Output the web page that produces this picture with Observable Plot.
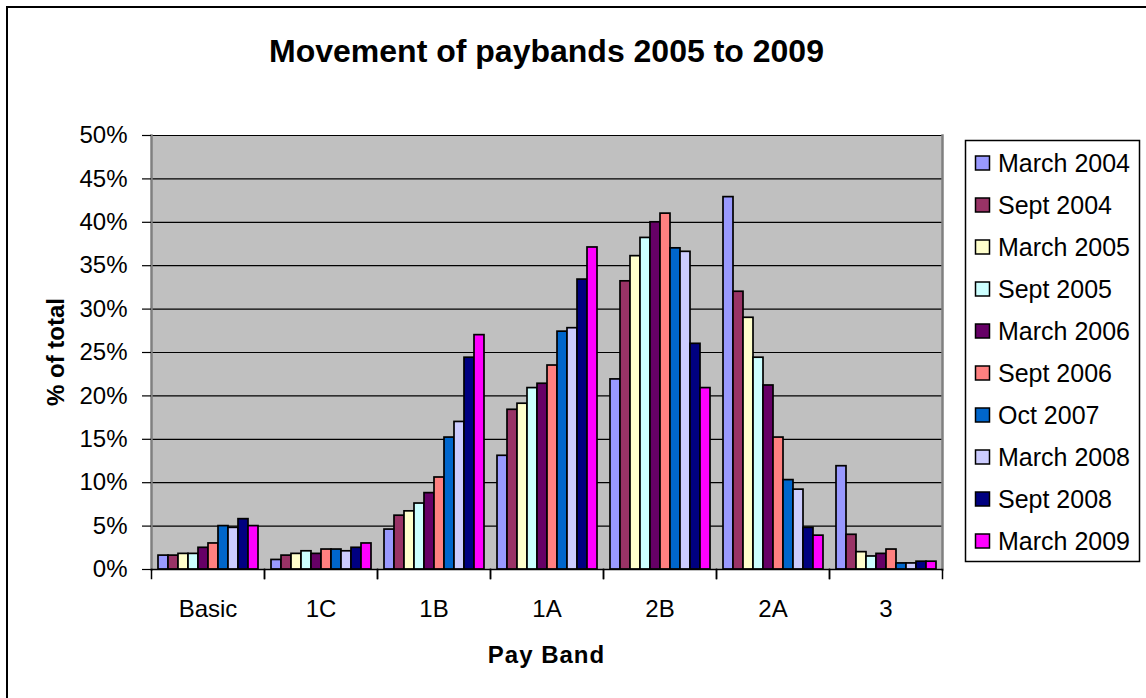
<!DOCTYPE html>
<html>
<head>
<meta charset="utf-8">
<script src="https://cdn.jsdelivr.net/npm/d3@7"></script>
<script src="https://cdn.jsdelivr.net/npm/@observablehq/plot@0.6"></script>
<style>
  html, body { margin: 0; padding: 0; background: #fff; overflow: hidden; }
  #wrap { position: relative; width: 1146px; height: 698px; font-family: "Liberation Sans", Arial, sans-serif; }
  #wrap > svg { position: absolute; left: 0; top: 0; }
</style>
</head>
<body>
<div id="wrap"></div>
<script>
// ---- data ----
const bands = ["Basic", "1C", "1B", "1A", "2B", "2A", "3"];
const series = ["March 2004", "Sept 2004", "March 2005", "Sept 2005", "March 2006",
                "Sept 2006", "Oct 2007", "March 2008", "Sept 2008", "March 2009"];
const colors = ["#9999FF", "#993366", "#FFFFCC", "#CCFFFF", "#660066",
                "#FF8080", "#0066CC", "#CCCCFF", "#000080", "#FF00FF"];
// % of total per band (Basic, 1C, 1B, 1A, 2B, 2A, 3)
const march2004 = [1.6, 1.1, 4.6, 13.1, 21.9, 42.9, 11.9];
const sept2004  = [1.6, 1.6, 6.2, 18.4, 33.2, 32.0, 4.0];
const march2005 = [1.8, 1.8, 6.7, 19.1, 36.1, 29.0, 2.0];
const sept2005  = [1.8, 2.1, 7.6, 20.9, 38.2, 24.4, 1.5];
const march2006 = [2.5, 1.8, 8.8, 21.4, 40.0, 21.2, 1.8];
const sept2006  = [3.0, 2.3, 10.6, 23.5, 41.0, 15.2, 2.3];
const oct2007   = [5.0, 2.3, 15.2, 27.4, 37.0, 10.3, 0.7];
const march2008 = [4.8, 2.1, 17.0, 27.8, 36.6, 9.2, 0.7];
const sept2008  = [5.8, 2.5, 24.4, 33.4, 26.0, 4.8, 0.9];
const march2009 = [5.0, 3.0, 27.0, 37.1, 20.9, 3.9, 0.9];
const yTicks = [0, 5, 10, 15, 20, 25, 30, 35, 40, 45, 50];

const title = "Movement of paybands 2005 to 2009";
const yLabel = "% of total";
const xLabel = "Pay Band";

const seriesValues = [march2004, sept2004, march2005, sept2005, march2006,
                      sept2006, oct2007, march2008, sept2008, march2009];
const data = series.flatMap((s, i) => bands.map((b, j) => ({series: s, band: b, value: seriesValues[i][j]})));

const W = 1146, H = 698;
const mL = 150, mR = 203, mT = 135, mB = 129;

const chart = Plot.plot({
  width: W, height: H,
  marginLeft: mL, marginRight: mR, marginTop: mT, marginBottom: mB,
  style: {fontFamily: "Liberation Sans, Arial, sans-serif", fontSize: "24px", background: "transparent", color: "#000", overflow: "visible"},
  fx: {domain: bands, paddingInner: 0, paddingOuter: 0, label: null},
  x: {domain: series, paddingInner: 0, paddingOuter: 0.6, axis: null},
  y: {domain: [0, 50]},
  color: {domain: series, range: colors},
  marks: [
    Plot.frame({fill: "#C0C0C0", stroke: "#C0C0C0", strokeWidth: 1.5, shapeRendering: "crispEdges"}),
    Plot.gridY(yTicks, {stroke: "#000", strokeOpacity: 1, strokeWidth: 1.2}),
    Plot.frame({anchor: "left", facetAnchor: "left", stroke: "#808080", strokeWidth: 2.5}),
    Plot.frame({anchor: "right", facetAnchor: "right", stroke: "#808080", strokeWidth: 2.5}),
    Plot.barY(data, {fx: "band", x: "series", y: "value", fill: "series", stroke: "#000", strokeWidth: 1.7}),
    Plot.ruleY([0], {stroke: "#000", strokeWidth: 1.5}),
    Plot.frame({anchor: "left", stroke: "#000", strokeWidth: 1.5, insetTop: H - mT - mB, insetBottom: -9}),
    Plot.frame({anchor: "right", stroke: "#000", strokeWidth: 1.5, insetTop: H - mT - mB, insetBottom: -9}),
    Plot.axisY(yTicks, {tickFormat: d => d + "%", tickSize: 9, tickPadding: 15, fontSize: 24, label: null, stroke: "#000", strokeWidth: 1.2}),
    Plot.axisFx({anchor: "bottom", tickSize: 0, tickPadding: 30, fontSize: 24, label: null})
  ]
});
document.getElementById("wrap").appendChild(chart);

// ---- overlay: border, title, axis labels, legend ----
const ov = d3.select("#wrap").append("svg")
  .attr("width", W).attr("height", H)
  .style("font-family", "Liberation Sans, Arial, sans-serif");

ov.append("rect").attr("x", 7).attr("y", 7).attr("width", W + 20).attr("height", H + 20)
  .attr("fill", "none").attr("stroke", "#000").attr("stroke-width", 2);

const cx = mL + (W - mL - mR) / 2;
ov.append("text").attr("x", cx).attr("y", 62).attr("text-anchor", "middle")
  .attr("font-size", 32).attr("font-weight", "bold").text(title);

ov.append("text").attr("x", cx).attr("y", 663).attr("text-anchor", "middle")
  .attr("font-size", 24).attr("font-weight", "bold").attr("letter-spacing", 1).text(xLabel);

ov.append("text").attr("transform", `translate(64,${mT + (H - mT - mB) / 2}) rotate(-90)`)
  .attr("text-anchor", "middle").attr("font-size", 24).attr("font-weight", "bold").text(yLabel);

const lg = ov.append("g");
lg.append("rect").attr("x", 965.5).attr("y", 140.5).attr("width", 174).attr("height", 421)
  .attr("fill", "#fff").attr("stroke", "#000").attr("stroke-width", 1.5);
series.forEach((s, i) => {
  const cy = 163 + i * 42;
  lg.append("rect").attr("x", 975.5).attr("y", cy - 7).attr("width", 14).attr("height", 14)
    .attr("fill", colors[i]).attr("stroke", "#000").attr("stroke-width", 1.5);
  lg.append("text").attr("x", 998).attr("y", cy + 9).attr("font-size", 25).text(s);
});
</script>
</body>
</html>
